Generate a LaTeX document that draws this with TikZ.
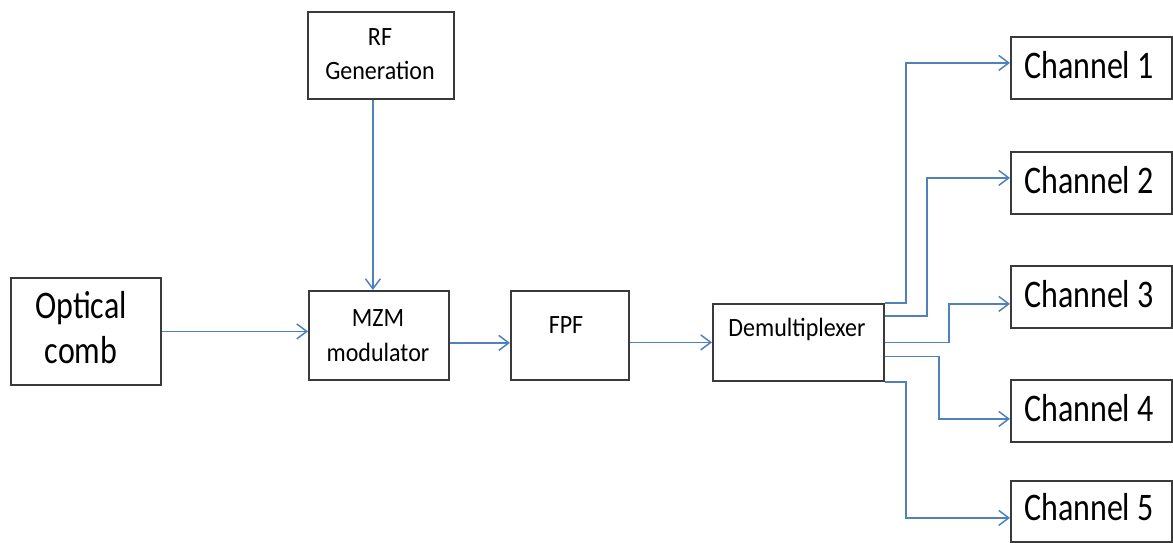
\documentclass[tikz,border=0pt]{standalone}
\usepackage{fontspec}
\usepackage{graphicx}
\setmainfont{Carlito}
\usetikzlibrary{arrows.meta}
\definecolor{linkblue}{HTML}{4F81BD}
\definecolor{edge}{HTML}{3A3A3A}
% tall text helpers (slightly stretched vertically)
\newcommand\bigtxt[1]{\scalebox{1}[1.22]{\fontsize{32}{32}\selectfont #1}}
\newcommand\smalltxt[1]{\scalebox{1}[1.1]{\fontsize{24}{24}\selectfont #1}}
\tikzset{
  blockbox/.style={draw=edge, line width=1.8pt, fill=white, inner sep=0pt, anchor=north west},
  lbl/.style={anchor=base, inner sep=0pt, text=black},
  link/.style={draw=linkblue, line width=1.5pt, -{Straight Barb[length=10pt,width=15pt,line width=1.5pt]}},
}
\begin{document}
\begin{tikzpicture}[x=1pt,y=-1pt]
\useasboundingbox (0,0) rectangle (1173,543);

% blocks
\node[blockbox, minimum width=150pt, minimum height=107pt] (opt) at (10,277) {};
\node[blockbox, minimum width=146pt, minimum height=87pt]  (rf)  at (307,11) {};
\node[blockbox, minimum width=140pt, minimum height=89pt]  (mzm) at (308,290) {};
\node[blockbox, minimum width=118pt, minimum height=89pt]  (fpf) at (510,290) {};
\node[blockbox, minimum width=171pt, minimum height=77pt]  (dmx) at (712,303) {};
\node[blockbox, minimum width=161pt, minimum height=62pt]  (ch1) at (1010,36) {};
\node[blockbox, minimum width=161pt, minimum height=62pt]  (ch2) at (1010,151) {};
\node[blockbox, minimum width=161pt, minimum height=62pt]  (ch3) at (1010,265) {};
\node[blockbox, minimum width=161pt, minimum height=62pt]  (ch4) at (1010,379) {};
\node[blockbox, minimum width=161pt, minimum height=61pt]  (ch5) at (1010,480) {};

% labels
\node[lbl] (optA) at (81,318) {\bigtxt{Optical}};
\node[lbl] (optB) at (81,363) {\bigtxt{comb}};
\node[lbl] (rfA)  at (380,46) {\smalltxt{RF}};
\node[lbl] (rfB)  at (380,80) {\smalltxt{Generation}};
\node[lbl] (mzA)  at (378,326) {\smalltxt{MZM}};
\node[lbl] (mzB)  at (378,361) {\smalltxt{modulator}};
\node[lbl] (fpA)  at (566,333) {\smalltxt{FPF}};
\node[lbl] (dmA)  at (797,336) {\smalltxt{Demultiplexer}};
\node[lbl] (c1A)  at (1089,78)  {\bigtxt{Channel 1}};
\node[lbl] (c2A)  at (1089,193) {\bigtxt{Channel 2}};
\node[lbl] (c3A)  at (1089,307) {\bigtxt{Channel 3}};
\node[lbl] (c4A)  at (1089,421) {\bigtxt{Channel 4}};
\node[lbl] (c5A)  at (1089,520) {\bigtxt{Channel 5}};

% signal path
\draw[link] (opt.east) -- (opt.east -| mzm.west);
\draw[link] ([xshift=-8pt]rf.south) -- ([xshift=-8pt]rf.south |- mzm.north);
\draw[link] ([yshift=-7.5pt]mzm.east) -- ([yshift=-7.5pt]mzm.east -| fpf.west);
\draw[link] (fpf.east |- dmx.west) -- (dmx.west);

% demultiplexer outputs
\draw[link] (dmx.north east) -- ++(21,0) |- ([yshift=5pt]ch1.west);
\draw[link] ([yshift=-13pt]dmx.north east) -- ++(42,0) |- ([yshift=5pt]ch2.west);
\draw[link] (dmx.east) -- ++(64,0) |- ([yshift=-7pt]ch3.west);
\draw[link] ([yshift=-14pt]dmx.east) -- ++(54,0) |- ([yshift=-8pt]ch4.west);
\draw[link] (dmx.south east) -- ++(21,0) |- ([yshift=-6.5pt]ch5.west);
\end{tikzpicture}
\end{document}
